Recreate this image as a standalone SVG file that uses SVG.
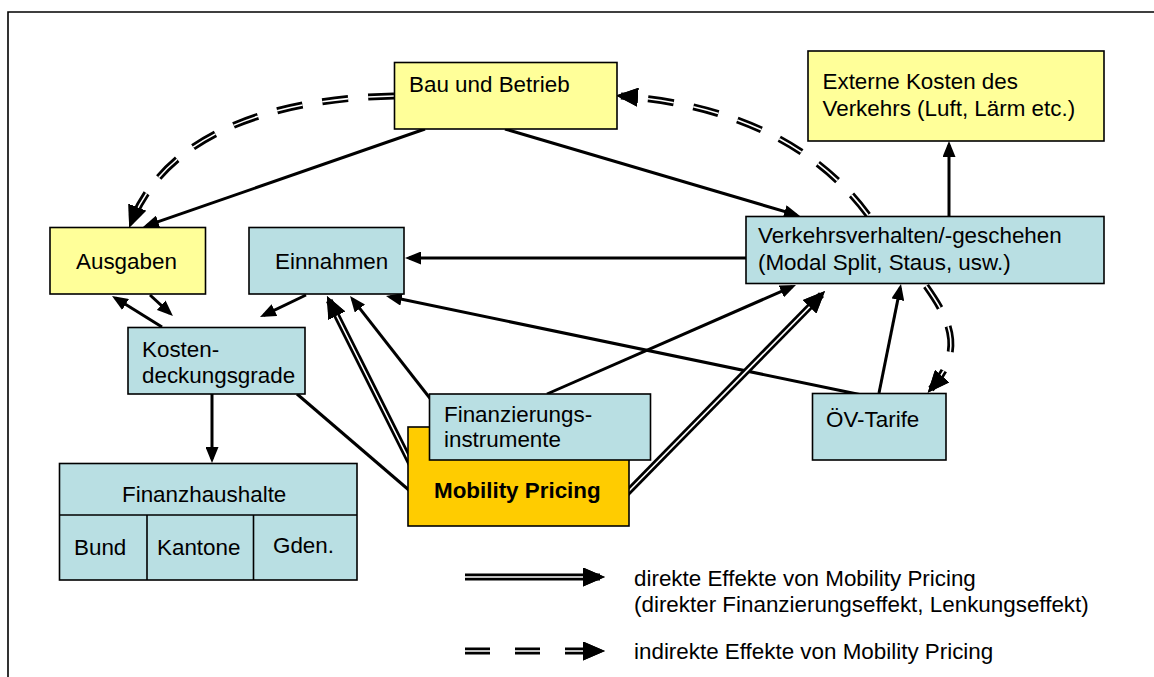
<svg xmlns="http://www.w3.org/2000/svg" width="1154" height="677" viewBox="0 0 1154 677">
  <style>
    .box { stroke: #000; stroke-width: 1.6; }
    .yel { fill: #FFFF99; }
    .cyn { fill: #B9DFE3; }
    .org { fill: #FFCC00; }
    text { font-family: "Liberation Sans", Arial, sans-serif; font-size: 22.4px; fill: #000; }
    .bold { font-weight: bold; }
    .solid { fill: none; stroke: #000; stroke-width: 3; marker-end: url(#arrowS); }
    .plain { fill: none; stroke: #000; stroke-width: 3; }
    .dblO { fill: none; stroke: #000; stroke-width: 7; marker-end: url(#arrowD); }
    .dblI { fill: none; stroke: #fff; stroke-width: 1.6; marker-end: url(#arrowD); }
    .dash { stroke-dasharray: 26 20; }
    .legdash { stroke-dasharray: 25 25; }
  </style>
  <defs>
    <marker id="arrowS" markerUnits="userSpaceOnUse" viewBox="0 0 16 13" markerWidth="16" markerHeight="13" refX="12" refY="6.5" orient="auto">
      <path d="M0,0 L16,6.5 L0,13 z" fill="#000"/>
    </marker>
    <marker id="arrowD" markerUnits="userSpaceOnUse" viewBox="0 0 22 19" markerWidth="22" markerHeight="19" refX="17" refY="9.5" orient="auto">
      <path d="M0,0 L22,9.5 L0,19 z" fill="#000"/>
    </marker>
  </defs>

  <rect width="1154" height="677" fill="#fff"/>
  <!-- frame -->
  <path d="M8,677 L8,12 L1154,12" fill="none" stroke="#000" stroke-width="1.6"/>

  <g id="connectors">
    <!-- solid arrows -->
    <path class="solid" d="M425,129 L146.8,225.7"/>
    <path class="solid" d="M505,129 L796.2,214.9"/>
    <path class="solid" d="M949,216 L949,145"/>
    <path class="solid" d="M746,258 L409,258"/>
    <path class="solid" d="M306,295 L263.6,315.3"/>
    <path class="solid" d="M150,295 L170,313.3"/>
    <path class="solid" d="M162,327 L115.4,298.1"/>
    <path class="solid" d="M212,394 L212,459"/>
    <path class="solid" d="M436,406 L352.5,299.1"/>
    <path class="solid" d="M862,395 L389.9,296.8"/>
    <path class="solid" d="M879,393 L900.2,287.9"/>
    <path class="solid" d="M547,394 L792.3,286.6"/>
    <path class="plain" d="M297,394 L410,491"/>
    <!-- direct effects (double lines) -->
    <path class="dblO" d="M412,466 L329.2,300.5"/>
    <path class="dblI" d="M412,466 L329.2,300.5"/>
    <path class="dblO" d="M626,494 L821.5,294.6"/>
    <path class="dblI" d="M626,494 L821.5,294.6"/>
    <!-- indirect effects (dashed double lines) -->
    <path class="dblO dash" d="M394,96 C290,98 170,125 131,223"/>
    <path class="dblI dash" d="M394,96 C290,98 170,125 131,223"/>
    <path class="dblO dash" d="M868,215 C820,150 740,105 621,96"/>
    <path class="dblI dash" d="M868,215 C820,150 740,105 621,96"/>
    <path class="dblO dash" d="M926,286 C950,320 965,350 931,389"/>
    <path class="dblI dash" d="M926,286 C950,320 965,350 931,389"/>
  </g>

  <g id="bau">
    <rect class="box yel" x="394.5" y="62.5" width="222.5" height="66.5"/>
    <text x="409" y="92">Bau und Betrieb</text>
  </g>
  <g id="externe-kosten">
    <rect class="box yel" x="808" y="51" width="296" height="90"/>
    <text x="822.5" y="89">Externe Kosten des</text>
    <text x="822.5" y="116">Verkehrs (Luft, Lärm etc.)</text>
  </g>
  <g id="verkehrsverhalten">
    <rect class="box cyn" x="746" y="216.5" width="358" height="67"/>
    <text x="758" y="243">Verkehrsverhalten/-geschehen</text>
    <text x="758" y="270">(Modal Split, Staus, usw.)</text>
  </g>
  <g id="ausgaben">
    <rect class="box yel" x="50" y="227.5" width="155.5" height="66.5"/>
    <text x="76" y="269">Ausgaben</text>
  </g>
  <g id="einnahmen">
    <rect class="box cyn" x="249" y="227.5" width="155" height="66.5"/>
    <text x="275" y="269">Einnahmen</text>
  </g>
  <g id="kostendeckungsgrade">
    <rect class="box cyn" x="128" y="327.5" width="177" height="66.5"/>
    <text x="142" y="357">Kosten-</text>
    <text x="142" y="383">deckungsgrade</text>
  </g>
  <g id="finanzhaushalte">
    <rect class="box cyn" x="59.5" y="463.5" width="297.5" height="116.5"/>
    <path d="M59.5,515 L357,515 M147,515 L147,580 M253.5,515 L253.5,580" stroke="#000" stroke-width="1.6" fill="none"/>
    <text x="122" y="502">Finanzhaushalte</text>
    <text x="74" y="555">Bund</text>
    <text x="157" y="555">Kantone</text>
    <text x="273" y="553">Gden.</text>
  </g>
  <g id="mobility-pricing">
    <rect class="box org" x="408" y="427" width="221" height="99"/>
    <text class="bold" x="434" y="498">Mobility Pricing</text>
  </g>
  <g id="finanzierungsinstrumente">
    <rect class="box cyn" x="429.5" y="394" width="221" height="66"/>
    <text x="444" y="421.5">Finanzierungs-</text>
    <text x="444" y="447">instrumente</text>
  </g>
  <g id="oev-tarife">
    <rect class="box cyn" x="812.5" y="393.5" width="133.5" height="66.5"/>
    <text x="826" y="427">ÖV-Tarife</text>
  </g>

  <g id="legend">
    <path class="dblO" d="M465,577 L600,577"/>
    <path class="dblI" d="M465,577 L600,577"/>
    <text x="634" y="586">direkte Effekte von Mobility Pricing</text>
    <text x="634" y="612">(direkter Finanzierungseffekt, Lenkungseffekt)</text>
    <path class="dblO legdash" d="M465,651 L600,651"/>
    <path class="dblI legdash" d="M465,651 L600,651"/>
    <text x="634" y="659">indirekte Effekte von Mobility Pricing</text>
  </g>
</svg>
